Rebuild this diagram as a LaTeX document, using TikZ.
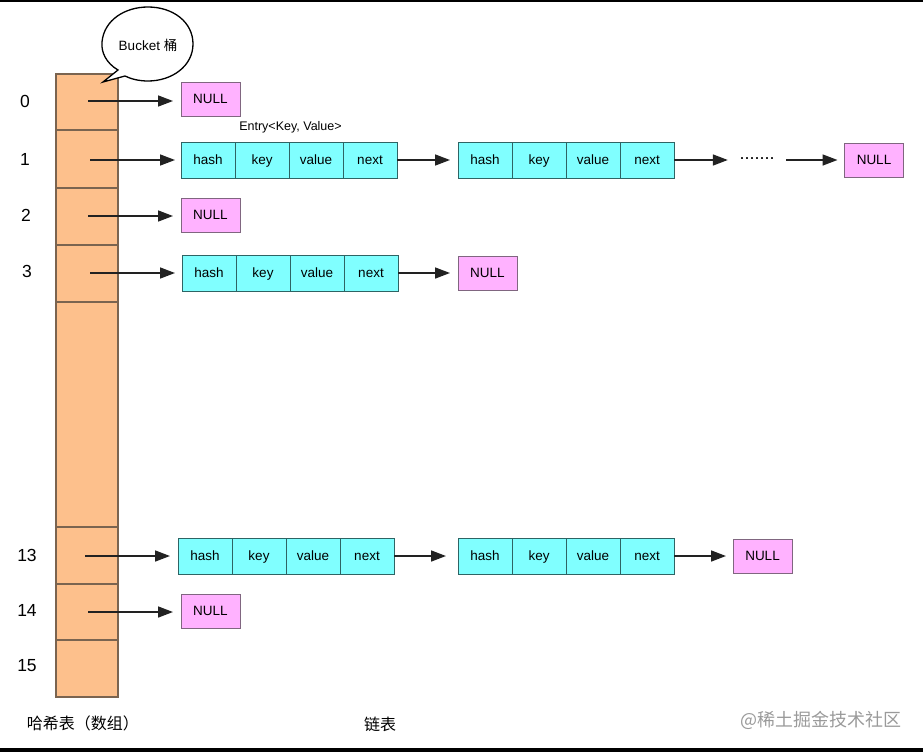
\documentclass[tikz,border=0pt]{standalone}
\usepackage{fontspec}
\setmainfont{Liberation Sans}
\newfontfamily\cjk{Noto Sans CJK SC}
\usetikzlibrary{arrows.meta,positioning}
\definecolor{arrfill}{HTML}{FDC08C}
\definecolor{arrline}{HTML}{7A6450}
\definecolor{cellfill}{HTML}{80FFFF}
\definecolor{cellline}{HTML}{2E6464}
\definecolor{nullfill}{HTML}{FFB2FF}
\definecolor{nullline}{HTML}{806680}
\definecolor{arrowcol}{HTML}{222222}
\definecolor{wmark}{HTML}{9A9A9A}
\newcommand\entryrow[3]{%
  \node[cellbox,anchor=west] (#1h) at (#2,#3) {hash};
  \node[cellbox,anchor=west] (#1k) at (#1h.east) {key};
  \node[cellbox,anchor=west] (#1v) at (#1k.east) {value};
  \node[cellbox,anchor=west] (#1n) at (#1v.east) {next};
}
\begin{document}
\begin{tikzpicture}[x=1pt,y=-1pt,
  arrcell/.style={draw=arrline,line width=1.1pt,fill=arrfill,minimum width=62pt,inner sep=0pt,outer sep=0pt},
  cellbox/.style={draw=cellline,line width=0.9pt,fill=cellfill,minimum width=54pt,minimum height=36pt,inner sep=0pt,outer sep=0pt,text height=9.4pt,text depth=0pt,font=\fontsize{13.5}{15}\selectfont},
  nullbox/.style={draw=nullline,line width=0.9pt,fill=nullfill,minimum width=59pt,minimum height=34pt,inner sep=0pt,outer sep=0pt,text height=9.4pt,text depth=0pt,font=\fontsize{13.5}{15}\selectfont},
  idx/.style={font=\fontsize{17.5}{19}\selectfont,inner sep=0pt},
  ptr/.style={draw=arrowcol,line width=1.6pt,-{Triangle[length=15pt,width=11pt]}},
  cjklabel/.style={font=\cjk\fontsize{16}{18}\selectfont,inner sep=0pt}
]
\useasboundingbox (0,0) rectangle (923,752);
\fill[black] (0,0) rectangle (923,2);
\fill[black] (0,748) rectangle (923,752);

% array cells
\node[arrcell,minimum height=56pt] (c0) at (87,102) {};
\node[arrcell,minimum height=58pt] (c1) at (87,159) {};
\node[arrcell,minimum height=57pt] (c2) at (87,216.5) {};
\node[arrcell,minimum height=57pt] (c3) at (87,273.5) {};
\node[arrcell,minimum height=225pt] (cgap) at (87,414.5) {};
\node[arrcell,minimum height=57pt] (c13) at (87,555.5) {};
\node[arrcell,minimum height=56pt] (c14) at (87,612) {};
\node[arrcell,minimum height=57pt] (c15) at (87,668.5) {};

% indices
\node[idx] (i0) at (25,101) {0};
\node[idx] (i1) at (25,159) {1};
\node[idx] (i2) at (26,215) {2};
\node[idx] (i3) at (27,271) {3};
\node[idx] (i13) at (27,555) {13};
\node[idx] (i14) at (27,610) {14};
\node[idx] (i15) at (27,666) {15};

% bubble
\draw[line width=1.3pt,fill=white] (118,70) .. controls (106,63) and (101,52) .. (102,42)
  .. controls (104,20) and (125,7) .. (148,7)
  .. controls (173,7) and (193,22) .. (193,44)
  .. controls (193,66) and (172,81) .. (148,81)
  .. controls (139,81) and (131,79) .. (125,76)
  -- (103,82) -- cycle;
\node[font=\fontsize{13.5}{15}\selectfont,inner sep=0pt] (bucket) at (148,45) {Bucket {\cjk 桶}};

% NULL boxes
\node[nullbox] (n0) at (210.5,99) {NULL};
\node[nullbox] (n2) at (210.5,215) {NULL};
\node[nullbox] (n14) at (210.5,611) {NULL};
\node[nullbox] (n1) at (874,160) {NULL};
\node[nullbox] (n3) at (487.5,273) {NULL};
\node[nullbox] (n13) at (762.5,556) {NULL};

% entries
\entryrow{ea}{181}{160}
\entryrow{eb}{458}{160}
\entryrow{ec}{182}{273}
\entryrow{ed}{178}{556}
\entryrow{ee}{458}{556}

\node[font=\fontsize{12.5}{14}\selectfont,inner sep=0pt] (elab) at (290.5,127) {Entry<Key, Value>};
\node[font=\fontsize{18}{18}\selectfont,inner sep=0pt,minimum width=46pt,minimum height=10pt] (dots) at (757,160) {\raisebox{2pt}{.......}};

% start points
\coordinate (s0) at (88,101);
\coordinate (s1) at (90,160);
\coordinate (s2) at (88,216);
\coordinate (s3) at (90,273);
\coordinate (s13) at (85,556);
\coordinate (s14) at (88,612);

% pointers
\draw[ptr,shorten >=8pt] (s0) -- (s0 -| n0.west);
\draw[ptr,shorten >=6pt] (s1) -- (s1 -| eah.west);
\draw[ptr,shorten >=8pt] (s2) -- (s2 -| n2.west);
\draw[ptr,shorten >=7pt] (s3) -- (s3 -| ech.west);
\draw[ptr,shorten >=8pt] (s13) -- (s13 -| edh.west);
\draw[ptr,shorten >=8pt] (s14) -- (s14 -| n14.west);

\draw[ptr,shorten >=8pt] (ean.east) -- (ebh.west);
\draw[ptr,shorten >=6pt] (ebn.east) -- (ebn.east -| dots.west);
\draw[ptr,shorten <=6pt,shorten >=7pt] (dots.east) -- (dots.east -| n1.west);
\draw[ptr,shorten >=8pt] (ecn.east) -- (n3.west);
\draw[ptr,shorten >=12pt] (edn.east) -- (eeh.west);
\draw[ptr,shorten >=7pt] (een.east) -- (n13.west);

% labels
\node[cjklabel] (lhash) at (83,723) {哈希表（数组）};
\node[cjklabel] (llist) at (380,724) {链表};
\node[font=\cjk\fontsize{18}{20}\selectfont,text=wmark,inner sep=0pt] (wm) at (821,720) {@稀土掘金技术社区};
\end{tikzpicture}
\end{document}
